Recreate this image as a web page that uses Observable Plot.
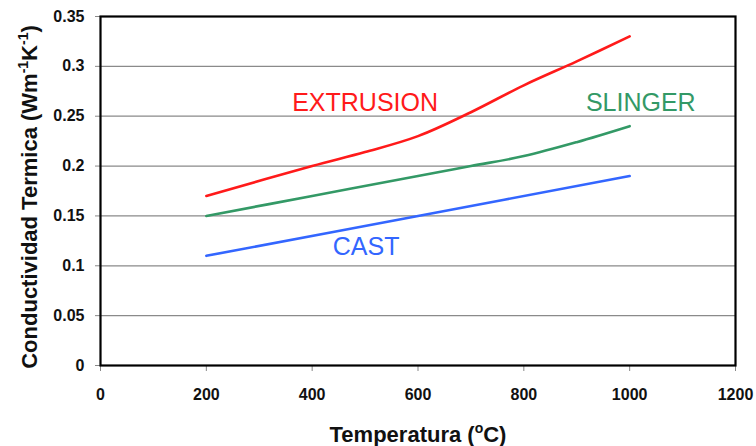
<!DOCTYPE html>
<html><head><meta charset="utf-8">
<script src="https://cdn.jsdelivr.net/npm/d3@7"></script>
<script src="https://cdn.jsdelivr.net/npm/@observablehq/plot@0.6"></script>
<style>body{margin:0;background:#fff;font-family:"Liberation Sans",Arial,sans-serif;}</style>
</head><body><div id="chart"></div>
<script>
const temps = [200, 400, 500, 600, 700, 800, 900, 1000];
const extrusion = [0.17, 0.2, 0.214, 0.23, 0.254, 0.281, 0.305, 0.33];
const slingerT = [200, 400, 600, 700, 800, 900, 1000];
const slinger = [0.15, 0.17, 0.19, 0.2, 0.21, 0.224, 0.24];
const castT = [200, 600, 1000];
const cast = [0.11, 0.15, 0.19];
const xTicks = [0, 200, 400, 600, 800, 1000, 1200];
const yTicks = [0, 0.05, 0.1, 0.15, 0.2, 0.25, 0.3, 0.35];
const labels = [
  {name: "EXTRUSION", x: 500, y: 0.2635, color: "#ff1a1a"},
  {name: "SLINGER", x: 1021, y: 0.2635, color: "#339966"},
  {name: "CAST", x: 502, y: 0.1185, color: "#3366ff"}
];

const rows = [
  ...temps.map((t, i) => ({s: "EXTRUSION", t, v: extrusion[i]})),
  ...slingerT.map((t, i) => ({s: "SLINGER", t, v: slinger[i]})),
  ...castT.map((t, i) => ({s: "CAST", t, v: cast[i]}))
];
const colors = {EXTRUSION: "#ff1a1a", SLINGER: "#339966", CAST: "#3366ff"};

const plot = Plot.plot({
  width: 756, height: 446,
  marginLeft: 100, marginRight: 21, marginTop: 16, marginBottom: 81,
  style: {fontFamily: "'Liberation Sans', Arial, sans-serif", background: "#fff"},
  x: {domain: [0, 1200], ticks: xTicks, label: null},
  y: {domain: [0, 0.35], ticks: yTicks, label: null},
  marks: [
    Plot.ruleY(yTicks.filter(d => d > 0 && d < 0.35), {stroke: "#8a8a8a", strokeWidth: 1.2}),
    Plot.axisY({ticks: yTicks, tickSize: 5, tickPadding: 11, stroke: "#888",
      tickFormat: d => String(+d.toFixed(2)), fontSize: 16, fontWeight: "bold", fill: "#111"}),
    Plot.axisX({ticks: xTicks, tickSize: 6, tickPadding: 17, stroke: "#888",
      tickFormat: d => String(d), fontSize: 16, fontWeight: "bold", fill: "#111"}),
    Plot.line(rows, {x: "t", y: "v", z: "s", stroke: d => colors[d.s], strokeWidth: 2.6, curve: "catmull-rom"}),
    Plot.text(labels, {x: "x", y: "y", text: "name", fill: "color", fontSize: 25, textAnchor: "middle"}),
    Plot.frame({stroke: "#000", strokeWidth: 2.2})
  ]
});
document.getElementById("chart").appendChild(plot);

const svg = d3.select(plot);
const xt = svg.append("text").attr("x", 418).attr("y", 442).attr("text-anchor", "middle")
  .attr("font-size", 22).attr("font-weight", "bold").attr("fill", "#111")
  .attr("font-family", "'Liberation Sans', Arial, sans-serif");
xt.append("tspan").text("Temperatura (");
xt.append("tspan").attr("dy", -9).attr("font-size", 14).text("o");
xt.append("tspan").attr("dy", 9).text("C)");

const yt = svg.append("text").attr("transform", "translate(37,197) rotate(-90)").attr("text-anchor", "middle")
  .attr("font-size", 22).attr("font-weight", "bold").attr("fill", "#111")
  .attr("font-family", "'Liberation Sans', Arial, sans-serif");
yt.append("tspan").text("Conductividad Termica (Wm");
yt.append("tspan").attr("dy", -9).attr("font-size", 14).text("-1");
yt.append("tspan").attr("dy", 9).text("K");
yt.append("tspan").attr("dy", -9).attr("font-size", 14).text("-1");
yt.append("tspan").attr("dy", 9).text(")");
</script></body></html>
